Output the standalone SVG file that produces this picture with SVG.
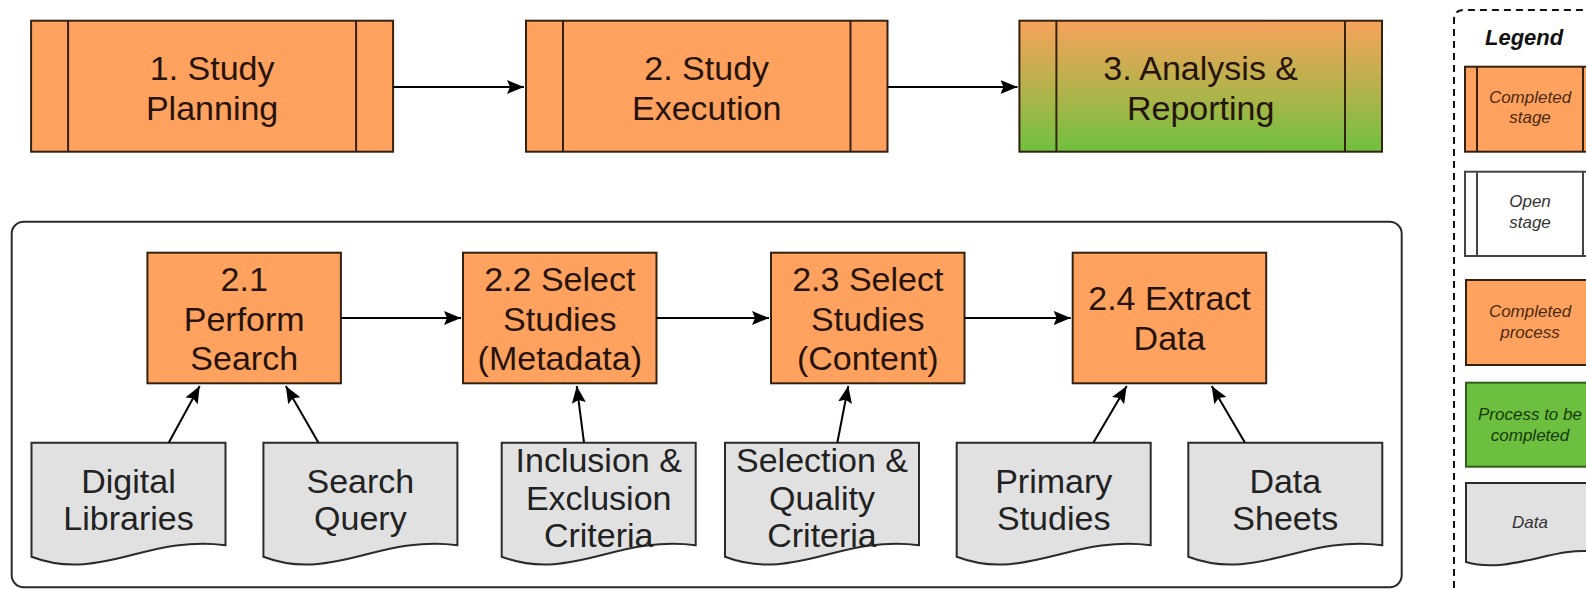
<svg xmlns="http://www.w3.org/2000/svg" xmlns:xlink="http://www.w3.org/1999/xlink" width="1586" height="590" viewBox="0 0 1586 590">
  <style>
    text { font-family: "Liberation Sans", Arial, sans-serif; text-anchor: middle; }
    .main { font-size: 34px; fill: #26140a; }
    .doctext { font-size: 34px; fill: #222; }
    .stage { fill: #ffa25f; stroke: #35210f; stroke-width: 2; }
    .bar { stroke: #35210f; stroke-width: 2; }
    .proc { fill: #ffa25f; stroke: #35210f; stroke-width: 2; }
    .doc { fill: #e1e1e1; stroke: #2b2b2b; stroke-width: 2; }
    .edge { fill: none; stroke: #000; stroke-width: 2; marker-end: url(#arrow); }
    .legend-text { font-size: 17px; font-style: italic; }
  </style>
  <defs>
    <marker id="arrow" markerUnits="userSpaceOnUse" markerWidth="20" markerHeight="16" refX="17" refY="7" orient="auto">
      <path d="M0,0 L17,7 L0,14 L3,7 Z" fill="#000"/>
    </marker>
    <linearGradient id="orangeToGreen" x1="0" y1="0" x2="0" y2="1">
      <stop offset="0" stop-color="#f7a25c"/>
      <stop offset="0.5" stop-color="#b7b24c"/>
      <stop offset="1" stop-color="#6fc13f"/>
    </linearGradient>
    <!-- document shape with wavy bottom edge, 194 wide -->
    <path id="docShape" d="M0,0 H194 V102.5 C116,92 68,140 0,114 Z"/>
  </defs>

  <!-- top-level stages -->
  <g id="stage1">
    <rect class="stage" x="31.1" y="20.7" width="362" height="131"/>
    <line class="bar" x1="68.1" y1="20.7" x2="68.1" y2="151.7"/>
    <line class="bar" x1="356.1" y1="20.7" x2="356.1" y2="151.7"/>
    <text class="main" x="212.1" y="79.5">1. Study</text>
    <text class="main" x="212.1" y="119.5">Planning</text>
  </g>
  <g id="stage2">
    <rect class="stage" x="526" y="20.7" width="361.5" height="131"/>
    <line class="bar" x1="563" y1="20.7" x2="563" y2="151.7"/>
    <line class="bar" x1="850.5" y1="20.7" x2="850.5" y2="151.7"/>
    <text class="main" x="706.7" y="79.5">2. Study</text>
    <text class="main" x="706.7" y="119.5">Execution</text>
  </g>
  <g id="stage3">
    <rect class="stage" x="1019.4" y="20.7" width="362.6" height="131" fill="url(#orangeToGreen)" style="fill:url(#orangeToGreen)"/>
    <line class="bar" x1="1056.4" y1="20.7" x2="1056.4" y2="151.7"/>
    <line class="bar" x1="1345" y1="20.7" x2="1345" y2="151.7"/>
    <text class="main" x="1200.7" y="79.5">3. Analysis &amp;</text>
    <text class="main" x="1200.7" y="119.5">Reporting</text>
  </g>

  <!-- expanded view of stage 2 -->
  <g id="execution-detail">
    <rect x="11.7" y="221.7" width="1390" height="365.5" rx="12" fill="#fff" stroke="#2a2a2a" stroke-width="2"/>
  </g>

  <g id="p21">
    <rect class="proc" x="147.4" y="252.7" width="193.5" height="130.6"/>
    <text class="main" x="244.2" y="290.7">2.1</text>
    <text class="main" x="244.2" y="330.5">Perform</text>
    <text class="main" x="244.2" y="370">Search</text>
  </g>
  <g id="p22">
    <rect class="proc" x="463" y="252.7" width="193.5" height="130.6"/>
    <text class="main" x="559.8" y="290.7">2.2 Select</text>
    <text class="main" x="559.8" y="330.5">Studies</text>
    <text class="main" x="559.8" y="370">(Metadata)</text>
  </g>
  <g id="p23">
    <rect class="proc" x="771" y="252.7" width="193.5" height="130.6"/>
    <text class="main" x="867.8" y="290.7">2.3 Select</text>
    <text class="main" x="867.8" y="330.5">Studies</text>
    <text class="main" x="867.8" y="370">(Content)</text>
  </g>
  <g id="p24">
    <rect class="proc" x="1072.7" y="252.7" width="193.5" height="130.6"/>
    <text class="main" x="1169.5" y="310">2.4 Extract</text>
    <text class="main" x="1169.5" y="350">Data</text>
  </g>

  <!-- data inputs -->
  <g id="d-digital-libraries">
    <use xlink:href="#docShape" href="#docShape" class="doc" x="31.5" y="442.7"/>
    <text class="doctext" x="128.5" y="492.5">Digital</text>
    <text class="doctext" x="128.5" y="530">Libraries</text>
  </g>
  <g id="d-search-query">
    <use xlink:href="#docShape" href="#docShape" class="doc" x="263.4" y="442.7"/>
    <text class="doctext" x="360.4" y="492.5">Search</text>
    <text class="doctext" x="360.4" y="530">Query</text>
  </g>
  <g id="d-inclusion">
    <use xlink:href="#docShape" href="#docShape" class="doc" x="501.7" y="442.7"/>
    <text class="doctext" x="598.7" y="472">Inclusion &amp;</text>
    <text class="doctext" x="598.7" y="510">Exclusion</text>
    <text class="doctext" x="598.7" y="547">Criteria</text>
  </g>
  <g id="d-selection">
    <use xlink:href="#docShape" href="#docShape" class="doc" x="725" y="442.7"/>
    <text class="doctext" x="822" y="472">Selection &amp;</text>
    <text class="doctext" x="822" y="510">Quality</text>
    <text class="doctext" x="822" y="547">Criteria</text>
  </g>
  <g id="d-primary-studies">
    <use xlink:href="#docShape" href="#docShape" class="doc" x="956.7" y="442.7"/>
    <text class="doctext" x="1053.7" y="492.5">Primary</text>
    <text class="doctext" x="1053.7" y="530">Studies</text>
  </g>
  <g id="d-data-sheets">
    <use xlink:href="#docShape" href="#docShape" class="doc" x="1188.3" y="442.7"/>
    <text class="doctext" x="1285.3" y="492.5">Data</text>
    <text class="doctext" x="1285.3" y="530">Sheets</text>
  </g>

  <!-- connectors -->
  <g id="connectors">
    <path class="edge" d="M393.1,87 H524"/>
    <path class="edge" d="M887.5,87 H1017.5"/>
    <path class="edge" d="M340.9,318 H461"/>
    <path class="edge" d="M656.5,318 H769"/>
    <path class="edge" d="M964.5,318 H1070.7"/>
    <path class="edge" d="M168.7,442.7 L199.7,386"/>
    <path class="edge" d="M318.5,442.7 L285.8,386"/>
    <path class="edge" d="M584,442.7 L576.7,386"/>
    <path class="edge" d="M837.3,442.7 L848.3,386"/>
    <path class="edge" d="M1093.3,442.7 L1126.7,386"/>
    <path class="edge" d="M1245,442.7 L1211.7,386"/>
  </g>

  <!-- legend -->
  <g id="legend">
    <path d="M1454,600 V20 Q1454,10 1464,10 H1600" fill="none" stroke="#111" stroke-width="2" stroke-dasharray="7 5"/>
    <text x="1485" y="45" style="text-anchor:start;font-size:22px;font-weight:bold;font-style:italic;fill:#111">Legend</text>

    <g id="legend-completed-stage">
      <rect class="stage" x="1465" y="66.7" width="130" height="85"/>
      <line class="bar" x1="1477" y1="66.7" x2="1477" y2="151.7"/>
      <line class="bar" x1="1583" y1="66.7" x2="1583" y2="151.7"/>
      <text class="legend-text" x="1530" y="102.5" fill="#4a2a12">Completed</text>
      <text class="legend-text" x="1530" y="123" fill="#4a2a12">stage</text>
    </g>
    <g id="legend-open-stage">
      <rect x="1465" y="171.7" width="130" height="84.3" fill="#fff" stroke="#444" stroke-width="2"/>
      <line x1="1477" y1="171.7" x2="1477" y2="256" stroke="#444" stroke-width="2"/>
      <line x1="1583" y1="171.7" x2="1583" y2="256" stroke="#444" stroke-width="2"/>
      <text class="legend-text" x="1530" y="207" fill="#333">Open</text>
      <text class="legend-text" x="1530" y="228" fill="#333">stage</text>
    </g>
    <g id="legend-completed-process">
      <rect class="proc" x="1466" y="280" width="130" height="85"/>
      <text class="legend-text" x="1530" y="316.7" fill="#4a2a12">Completed</text>
      <text class="legend-text" x="1530" y="337.7" fill="#4a2a12">process</text>
    </g>
    <g id="legend-open-process">
      <rect x="1466" y="382.7" width="130" height="84" fill="#6dbf3f" stroke="#2f5f1a" stroke-width="2"/>
      <text class="legend-text" x="1530" y="420" fill="#173a08">Process to be</text>
      <text class="legend-text" x="1530" y="440.7" fill="#173a08">completed</text>
    </g>
    <g id="legend-data">
      <path class="doc" d="M1466,483 H1596 V552 C1556,545 1510,575 1466,562 Z"/>
      <text class="legend-text" x="1530" y="528.3" fill="#333">Data</text>
    </g>
  </g>
</svg>
